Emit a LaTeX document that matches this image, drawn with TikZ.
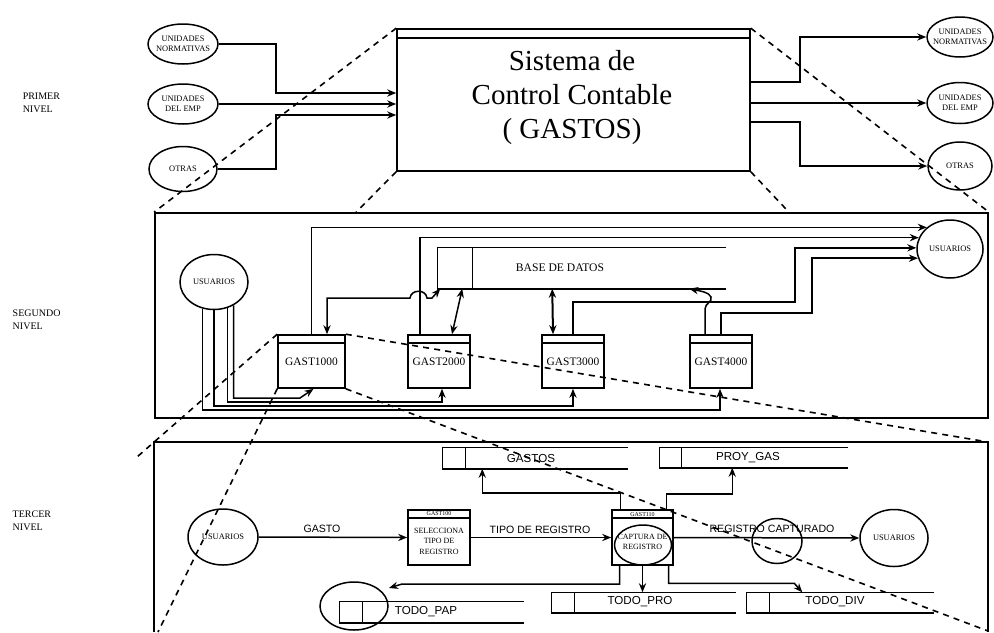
\documentclass[tikz,border=0pt]{standalone}
\usepackage{fontspec}
\setmainfont{Liberation Serif}
\newfontfamily\sansfnt{Liberation Sans}
\usetikzlibrary{arrows.meta,shapes.geometric,calc}
\newcommand{\drawstore}[2]{%
  \draw (#1.north east) -- (#1.north west) -- (#1.south west) -- (#1.south east);
  \draw ([xshift=#2]#1.north west) -- ([xshift=#2]#1.south west);}
\begin{document}
\begin{tikzpicture}[x=0.5pt,y=-0.5pt,
  line width=0.75pt,
  ell/.style={draw,ellipse,inner sep=0pt},
  etxt/.style={align=center,inner sep=0pt,font=\fontsize{4.2}{4.8}\selectfont},
  arr/.style={-{Stealth[length=4.5pt,width=3.6pt]}},
  darr/.style={{Stealth[length=4.5pt,width=3.6pt]}-{Stealth[length=4.5pt,width=3.6pt]}},
  zoomline/.style={dash pattern=on 3pt off 2.6pt,line width=0.8pt},
  lvl/.style={anchor=west,align=left,font=\fontsize{5}{6.3}\selectfont,inner sep=0pt},
  gastbox/.style={draw,rectangle,inner sep=0pt,line width=0.8pt,
    font=\fontsize{5.7}{6}\selectfont,
    path picture={\draw ([yshift=-4pt]path picture bounding box.north west) -- ([yshift=-4pt]path picture bounding box.north east);}},
  store/.style={rectangle,inner sep=0pt},
  lbl/.style={inner sep=0pt,font=\sansfnt\fontsize{5.3}{6}\selectfont},
  slbl/.style={inner sep=0pt,font=\sansfnt\fontsize{5.8}{6}\selectfont},
  hdr/.style={inner sep=0pt,font=\fontsize{3}{3.5}\selectfont},
  body/.style={inner sep=0pt,align=center,font=\fontsize{4}{5.3}\selectfont},
]
\useasboundingbox (0,0) rectangle (994,632);

% ---------------- level labels
\node[lvl] (l1) at (22,103) {PRIMER\\NIVEL};
\node[lvl] (l2) at (12,320) {SEGUNDO\\NIVEL};
\node[lvl] (l3) at (12,521) {TERCER\\NIVEL};

% ---------------- level 1
\node[ell,minimum width=35pt,minimum height=20pt] (e1L) at (183,44) {};
\node[etxt] at (e1L) {UNIDADES\\NORMATIVAS};
\node[ell,minimum width=35pt,minimum height=20pt] (e2L) at (183,104) {};
\node[etxt] at (e2L) {UNIDADES\\DEL EMP};
\node[ell,minimum width=34pt,minimum height=22.5pt] (e3L) at (183,169) {};
\node[etxt] at (e3L) {OTRAS};

\node[draw,minimum width=176.5pt,minimum height=71pt,inner sep=0pt,line width=0.8pt] (main) at (573.5,100) {};
\draw ([yshift=-5pt]main.north west) -- ([yshift=-5pt]main.north east);
\node[align=center,inner sep=0pt,font=\fontsize{14.5}{17}\selectfont] (title) at (572,98) {Sistema de\\Control Contable\\( GASTOS)};

\draw[arr] (e1L.east) -| (276,93) -- ([yshift=3.5pt]main.west);
\draw[arr] (e2L.east) -- ([yshift=-2pt]main.west);
\draw[arr] (e3L.east) -| (276,115) -- ([yshift=-7.5pt]main.west);

\node[ell,minimum width=33pt,minimum height=20pt] (e1R) at (960,37) {};
\node[etxt] at (e1R) {UNIDADES\\NORMATIVAS};
\node[ell,minimum width=33pt,minimum height=20.5pt] (e2R) at (960,103) {};
\node[etxt] at (e2R) {UNIDADES\\DEL EMP};
\node[ell,minimum width=32pt,minimum height=24pt] (e3R) at (960,166) {};
\node[etxt] at (e3R) {OTRAS};

\draw[arr] ([yshift=9pt]main.east) -| (800,37) -- (e1R.west);
\draw[arr] ([yshift=-1.5pt]main.east) -- (e2R.west);
\draw[arr] ([yshift=-11pt]main.east) -| (800,166) -- (e3R.west);

% ---------------- level 2 frame
\node[draw,minimum width=416.5pt,minimum height=102.5pt,inner sep=0pt,line width=0.9pt] (lvl2) at (571.5,315.5) {};

\draw[zoomline] (main.north west) -- (lvl2.north west);
\draw[zoomline] (main.south west) -- ([xshift=101pt]lvl2.north west);
\draw[zoomline] (main.north east) -- (lvl2.north east);
\draw[zoomline] (main.south east) -- ([xshift=-100pt]lvl2.north east);

% ---------------- level 2 content
\node[ell,minimum width=34pt,minimum height=27.5pt] (u2L) at (214,282) {};
\node[etxt] at (u2L) {USUARIOS};
\node[ell,minimum width=33pt,minimum height=29pt] (u2R) at (950,249) {};
\node[etxt] at (u2R) {USUARIOS};

\node[gastbox,minimum width=33.5pt,minimum height=26.5pt] (g1) at (311.5,361.5) {};
\node[inner sep=0pt,font=\fontsize{5.7}{6}\selectfont] at (311.5,362) {GAST1000};
\node[gastbox,minimum width=31pt,minimum height=26.5pt] (g2) at (439,361.5) {};
\node[inner sep=0pt,font=\fontsize{5.7}{6}\selectfont] at (439,362) {GAST2000};
\node[gastbox,minimum width=31pt,minimum height=26.5pt] (g3) at (573,361.5) {};
\node[inner sep=0pt,font=\fontsize{5.7}{6}\selectfont] at (573,362) {GAST3000};
\node[gastbox,minimum width=31pt,minimum height=26.5pt] (g4) at (721,361.5) {};
\node[inner sep=0pt,font=\fontsize{5.7}{6}\selectfont] at (721,362) {GAST4000};

\node[store,minimum width=143.5pt,minimum height=20pt] (base) at (581.5,268) {};
\drawstore{base}{17.5pt}
\node[inner sep=0pt,font=\fontsize{5.8}{6}\selectfont] (basetxt) at (560,268) {BASE DE DATOS};

% outputs to USUARIOS (right)
\draw[arr] (g1.north) |- (u2R.137);
\draw[arr] ([xshift=-9.5pt]g2.north) |- (u2R.160);
\draw[arr] (g3.north) |- (795,302) |- (u2R.178);
\draw[arr] (g4.north) |- (812,313) |- (u2R.196);

% database links
\draw[arr] ([xshift=-8pt]g4.north) -- (705,309) .. controls (705,303) and (713,302) .. (711,297) .. controls (709,292) and (700,291) .. ([xshift=126pt]base.south west);
\draw[darr] ([xshift=7.75pt]g1.north) -- (327,298) -- (410,298) .. controls (411,289) and (426,289) .. (427,298) -- (432,298) -- ([xshift=1.5pt]base.south west);
\draw[darr] ([xshift=6.5pt]g2.north) -- ([xshift=12.5pt]base.south west);
\draw[darr,line width=1pt] ([xshift=-10pt]g3.north) -- ([xshift=57.5pt]base.south west);

% inputs from USUARIOS (left)
\draw[arr] (u2L.310) |- (300,398) -- ([xshift=1pt]g1.south);
\draw[arr] (u2L.297) |- (442,402) -- ([xshift=1.5pt]g2.south);
\draw[arr] (u2L.270) |- (573,406) -- (g3.south);
\draw[arr] (u2L.247) |- (720,410) -- ([xshift=-0.5pt]g4.south);

% ---------------- level 3 frame
\coordinate (l3nw) at (154,442);
\coordinate (l3ne) at (988,442);
\draw[line width=0.9pt] (154,632) -- (l3nw) -- (l3ne) -- (988,632);

\draw[zoomline] (g1.north west) -- (137,457);
\draw[zoomline] (g1.north east) -- (l3ne);
\draw[zoomline] (g1.south east) -- (988,631);
\draw[zoomline] (g1.south west) -- (158,632);

% ---------------- level 3 content
\node[ell,minimum width=35pt,minimum height=28pt] (u3L) at (223,537) {};
\node[etxt] at (u3L) {USUARIOS};

\node[gastbox,minimum width=31pt,minimum height=27.5pt] (sel) at (439,537.5) {};
\node[hdr] at (439,514) {GAST100};
\node[body] at (439,541) {SELECCIONA\\TIPO DE\\REGISTRO};

\node[gastbox,minimum width=30.5pt,minimum height=27.5pt] (cap) at (642.5,537.5) {};
\node[hdr] at (642.5,514.5) {GAST110};
\node[ell,minimum width=28.5pt,minimum height=20pt] (capc) at (643,545) {};
\node[body] at (642.5,542) {CAPTURA DE\\REGISTRO};

\node[ell,minimum width=34pt,minimum height=28.5pt] (u3R) at (894,538) {};
\node[etxt] at (u3R) {USUARIOS};

\draw[arr] (u3L.east) -- (sel.west);
\node[lbl] (tgasto) at (322,529) {GASTO};
\draw[arr] (sel.east) -- (cap.west);
\node[lbl] (ttipo) at (540,530) {TIPO DE REGISTRO};
\draw[arr] (cap.east) -- (u3R.west);
\node[lbl] (tcapt) at (772,529) {REGISTRO CAPTURADO};
\node[ell,minimum width=25pt,minimum height=22.5pt] (rcirc) at (777,541) {};

% stores
\node[store,minimum width=92pt,minimum height=10pt] (gastos) at (535,458) {};
\drawstore{gastos}{11.5pt}
\node[slbl] at (531,458) {GASTOS};
\node[store,minimum width=93.5pt,minimum height=9.5pt] (proy) at (753.5,457.5) {};
\drawstore{proy}{11pt}
\node[slbl] at (748,458) {PROY\_GAS};
\node[store,minimum width=91.5pt,minimum height=9.5pt] (todopro) at (643.5,602.5) {};
\drawstore{todopro}{11.5pt}
\node[slbl] at (640,602) {TODO\_PRO};
\node[store,minimum width=93pt,minimum height=9.5pt] (todiv) at (840,602.5) {};
\drawstore{todiv}{11.5pt}
\node[slbl] at (835,602) {TODO\_DIV};
\node[store,minimum width=91.5pt,minimum height=10pt] (topap) at (431.5,612) {};
\drawstore{topap}{11.5pt}
\node[slbl] at (426,612) {TODO\_PAP};
\node[ell,minimum width=34pt,minimum height=24pt] (papc) at (354,606) {};
\coordinate (paptip) at (389,588);

% store connectors
\draw[arr] ([xshift=-11pt]cap.north) |- ([xshift=20pt,yshift=-12pt]gastos.south west) -- ([xshift=20pt]gastos.south west);
\draw[arr] ([xshift=12pt]cap.north) |- ([xshift=36.5pt,yshift=-13pt]proy.south west) -- ([xshift=36.5pt]proy.south west);
\draw[arr] (cap.south) -- (cap.south |- todopro.north);
\draw[arr] ([xshift=13pt]cap.south) |- ([xshift=24pt,yshift=4.5pt]todiv.north west) -- ([xshift=28pt]todiv.north west);
\draw[arr] ([xshift=-11.5pt]cap.south) |- (402,584) -- (paptip);
\end{tikzpicture}
\end{document}
